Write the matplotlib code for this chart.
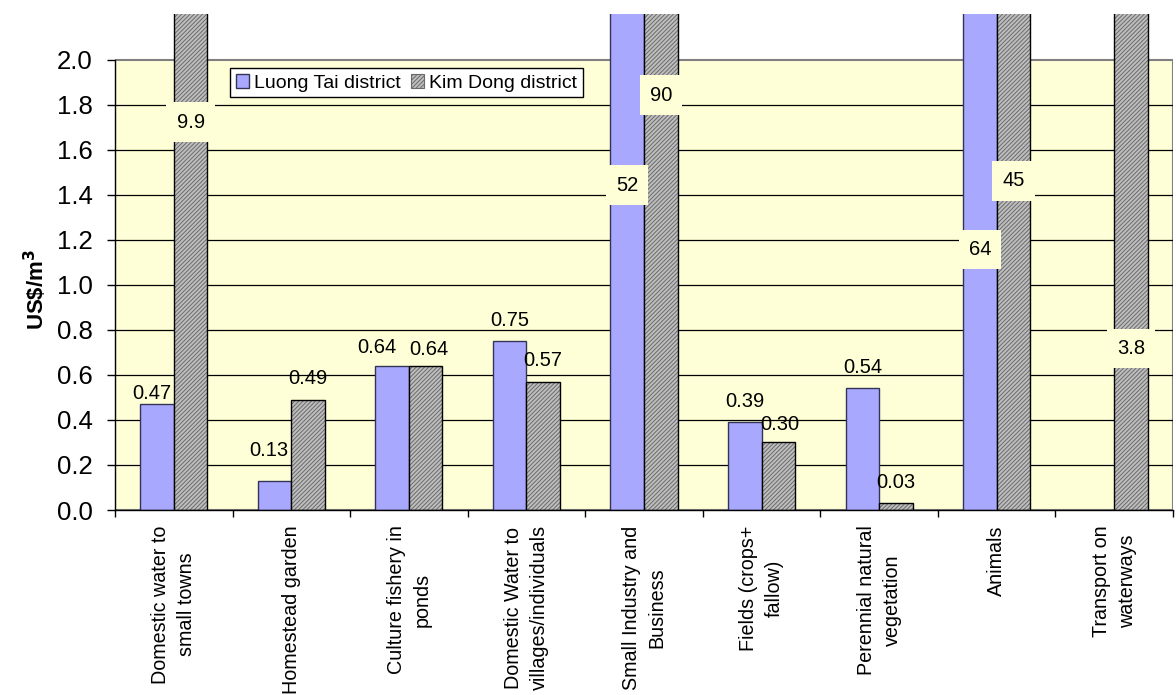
import matplotlib
matplotlib.use("Agg")
import matplotlib.pyplot as plt
from matplotlib.patches import Patch, Rectangle
import numpy as np

plt.rcParams["font.family"] = ["Liberation Sans", "DejaVu Sans"]
plt.rcParams["hatch.linewidth"] = 0.7

# 各用水部门的单位水价值（US$/m3）
categories = [
    "Domestic water to\nsmall towns",
    "Homestead garden",
    "Culture fishery in\nponds",
    "Domestic Water to\nvillages/individuals",
    "Small Industry and\nBusiness",
    "Fields (crops+\nfallow)",
    "Perennial natural\nvegetation",
    "Animals",
    "Transport on\nwaterways",
]
luong_tai = [0.47, 0.13, 0.64, 0.75, 52, 0.39, 0.54, 64, None]
kim_dong = [9.9, 0.49, 0.64, 0.57, 90, 0.30, 0.03, 45, 3.8]
series_names = ["Luong Tai district", "Kim Dong district"]

y_max = 2.0          # 绘图区上限，超出的柱子标签放在柱内
y_ticks = np.arange(0, 2.01, 0.2)
# 超出上限的柱子，标签放置的高度
inside_label_y = {("L", 4): 1.444, ("L", 7): 1.156,
                  ("K", 0): 1.724, ("K", 4): 1.844, ("K", 7): 1.462, ("K", 8): 0.716}
# 柱顶标签的偏移（points），默认 (0, 15)
label_offset = {("L", 0): (-4, 8), ("L", 1): (-4, 22), ("L", 2): (-11, 13),
                ("K", 2): (2, 12), ("K", 5): (1, 13)}

bg_yellow = "#FFFFD7"
blue = "#A8A8FF"
grey = "#BEBEBE"

fig = plt.figure(figsize=(11.76, 6.95), dpi=100)
ax = fig.add_axes([115 / 1176, 185 / 695, 1058 / 1176, 496 / 695])
ax.set_facecolor("none")
ax.set_xlim(0, len(categories))
ax.set_ylim(0, 2.204)

# 黄色绘图区 + 网格线
ax.add_patch(Rectangle((0, 0), len(categories), y_max, facecolor=bg_yellow,
                       edgecolor="#808080", lw=1.5, zorder=0))
for t in y_ticks[1:-1]:
    ax.axhline(t, color="black", lw=0.9, zorder=1)

w = 1 / 3.5
x = np.arange(len(categories)) + 0.5
for i in range(len(categories)):
    v = luong_tai[i]
    if v is not None:
        ax.bar(x[i] - w / 2, v, width=w, color=blue, edgecolor="#333355", lw=1.0, zorder=2)
    v = kim_dong[i]
    if v is not None:
        ax.bar(x[i] + w / 2, v, width=w, color=grey, edgecolor="#6a6a6a", hatch="////////", lw=0, zorder=2)
        ax.bar(x[i] + w / 2, v, width=w, fill=False, edgecolor="black", lw=1.0, zorder=2)


def fmt(v):
    return "%d" % v if v >= 10 else ("%.1f" % v if v > y_max else "%.2f" % v)


label_font = 14.5
for key, vals, dx in (("L", luong_tai, -w / 2), ("K", kim_dong, w / 2)):
    for i, v in enumerate(vals):
        if v is None:
            continue
        if v > y_max:
            ax.text(x[i] + dx, inside_label_y[(key, i)], fmt(v), ha="center", va="center",
                    fontsize=label_font, zorder=4,
                    bbox=dict(boxstyle="square,pad=0.5", facecolor=bg_yellow, edgecolor="none"))
        else:
            ax.annotate(fmt(v), (x[i] + dx, v), xytext=label_offset.get((key, i), (0, 15)),
                        textcoords="offset points", ha="center", va="center",
                        fontsize=label_font, zorder=4)

# 坐标轴
for s in ("top", "right"):
    ax.spines[s].set_visible(False)
ax.spines["left"].set_bounds(0, y_max)
ax.spines["left"].set_linewidth(1.0)
ax.spines["bottom"].set_linewidth(1.0)
ax.set_yticks(y_ticks)
ax.set_yticklabels(["%.1f" % t for t in y_ticks])
ax.tick_params(axis="y", direction="out", length=6, width=1, labelsize=18.5, pad=10)
ax.set_xticks(np.arange(len(categories) + 1))
ax.set_xticklabels([])
ax.tick_params(axis="x", which="major", direction="out", length=5, width=1)
ax.set_xticks(x, minor=True)
ax.set_xticklabels(categories, minor=True, rotation=90, ha="center", va="top",
                   multialignment="center", fontsize=14.2, linespacing=1.45)
ax.tick_params(axis="x", which="minor", length=0, pad=11)

ax.set_ylabel("US\\$/m$^\\mathbf{3}$", fontsize=16, fontweight="bold")
ax.yaxis.set_label_coords(-0.062, 0.445)

handles = [Patch(facecolor=blue, edgecolor="#333355", lw=1.0),
           Patch(facecolor=grey, edgecolor="#6a6a6a", hatch="////////", lw=0.8)]
leg = ax.legend(handles, series_names, loc="upper left", bbox_to_anchor=(0.1087, 0.891),
                borderaxespad=0, ncol=2, fontsize=14, frameon=True, fancybox=False,
                edgecolor="black", framealpha=1, handlelength=0.7, handleheight=0.7,
                handletextpad=0.25, columnspacing=0.5, borderpad=0.3)
leg.get_frame().set_linewidth(1.0)
leg.set_zorder(5)

fig.savefig("out.png", dpi=100)
